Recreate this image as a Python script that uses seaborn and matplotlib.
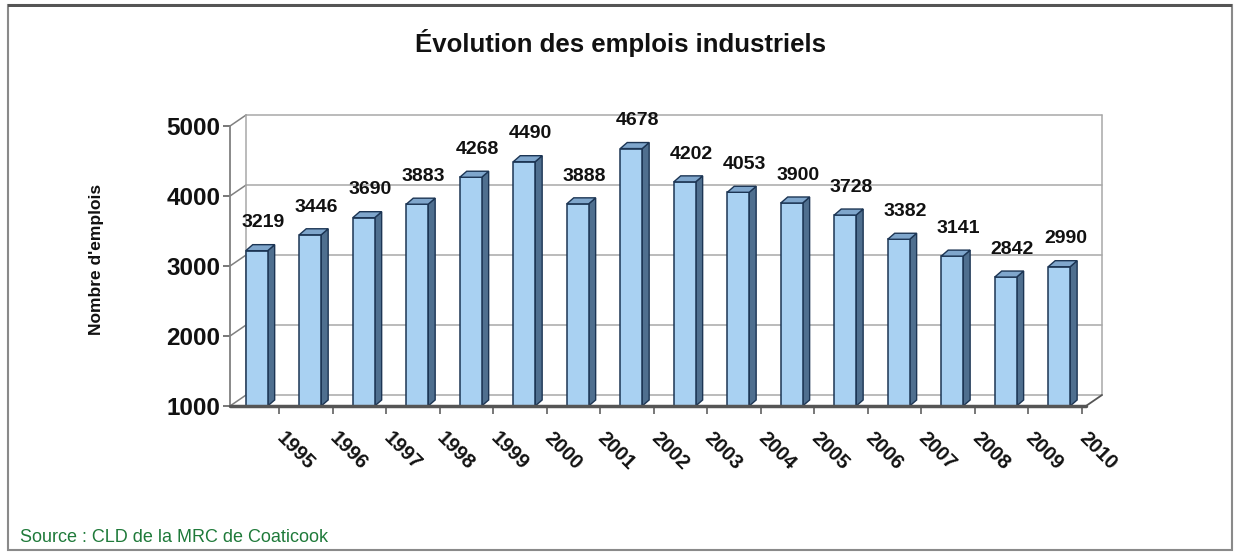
import matplotlib
matplotlib.use("Agg")
import matplotlib.pyplot as plt
from matplotlib.patches import Polygon, Rectangle
import seaborn as sns
import pandas as pd

# données
annees = ['1995', '1996', '1997', '1998', '1999', '2000', '2001', '2002',
          '2003', '2004', '2005', '2006', '2007', '2008', '2009', '2010']
emplois = [3219, 3446, 3690, 3883, 4268, 4490, 3888, 4678,
           4202, 4053, 3900, 3728, 3382, 3141, 2842, 2990]
y_ticks = [1000, 2000, 3000, 4000, 5000]

df = pd.DataFrame({'annee': annees, 'emplois': emplois})

sns.set_style('white')
plt.rcParams['font.family'] = ['Liberation Sans', 'DejaVu Sans']

fig = plt.figure(figsize=(12.38, 5.54), dpi=100)
W, H = 1238, 554
ax = fig.add_axes([230 / W, 1 - 406 / H, 872 / W, 293 / H])

face = '#A9D1F2'
side = '#4F6F8F'
top = '#7FA6CC'
edge = '#1C3554'

sns.barplot(data=df, x='annee', y='emplois', color=face, width=0.41,
            edgecolor=edge, linewidth=1.1, saturation=1, ax=ax, zorder=3)

ax.set_xlim(-0.5, 15.8)
ax.set_ylim(1000, 5186)
ymin = 1000

# profondeur des murs et des barres
dxw, dyw = 0.3, 157
dxb, dyb = 0.13, 86

# mur du fond + grille
for v in y_ticks:
    ax.plot([-0.5 + dxw, 15.5 + dxw], [v + dyw, v + dyw], color='#A8A8A8', lw=1.1, zorder=1, clip_on=False)
    ax.plot([-0.5, -0.5 + dxw], [v, v + dyw], color='#808080', lw=1.1, zorder=1, clip_on=False)
ax.plot([-0.5 + dxw, -0.5 + dxw], [ymin + dyw, 5000 + dyw], color='#A8A8A8', lw=1.1, zorder=1, clip_on=False)
ax.plot([15.5 + dxw, 15.5 + dxw], [ymin + dyw, 5000 + dyw], color='#A8A8A8', lw=1.1, zorder=1, clip_on=False)
ax.plot([-0.5, -0.5], [ymin, 5000], color='#808080', lw=1.3, zorder=1, clip_on=False)
# plancher
ax.plot([-0.5, 15.5], [ymin, ymin], color='#555555', lw=2.5, zorder=4, clip_on=False)
ax.plot([15.5, 15.5 + dxw], [ymin, ymin + dyw], color='#555555', lw=1.3, zorder=4, clip_on=False)

# faces 3D des barres
for p in ax.patches[:len(emplois)]:
    x0 = p.get_x()
    x1 = x0 + p.get_width()
    h = p.get_height()
    ax.add_patch(Polygon([(x1, ymin), (x1 + dxb, ymin + dyb), (x1 + dxb, h + dyb), (x1, h)],
                         closed=True, facecolor=side, edgecolor=edge, lw=1.0, zorder=2.9))
    ax.add_patch(Polygon([(x0, h), (x1, h), (x1 + dxb, h + dyb), (x0 + dxb, h + dyb)],
                         closed=True, facecolor=top, edgecolor=edge, lw=1.0, zorder=3.1))
    ax.annotate(f'{int(h)}', (x0 + p.get_width() / 2 + 0.12, h), xytext=(0, 20),
                textcoords='offset points', ha='center', va='center',
                fontsize=14, fontweight='bold', color='#111111', zorder=5)

for s in ax.spines.values():
    s.set_visible(False)

ax.set_yticks(y_ticks)
ax.set_yticklabels([str(v) for v in y_ticks], fontsize=17.5, fontweight='bold', color='#111111')
ax.tick_params(axis='y', length=5, width=1.2, color='#606060', pad=2, left=True)

ax.set_xticks([i + 0.42 for i in range(len(annees))])
ax.set_xticklabels(annees, rotation=-45, ha='left', va='center', rotation_mode='anchor',
                   fontsize=14.5, fontweight='bold', color='#111111')
ax.tick_params(axis='x', length=6, width=1.2, color='#606060', pad=15, bottom=True)

ax.set_xlabel('')
ax.set_ylabel("Nombre d'emplois", fontsize=12.5, fontweight='bold', labelpad=45, color='#111111')

fig.text(621 / W, 1 - 43 / H, 'Évolution des emplois industriels', ha='center', va='center',
         fontsize=18.5, fontweight='bold', color='#111111')
fig.text(20 / W, 1 - 537 / H, 'Source : CLD de la MRC de Coaticook', ha='left', va='center',
         fontsize=13, color='#1F7A3A')

# cadre
fig.patches.append(Rectangle((8 / W, 4 / H), 1224 / W, 545 / H, transform=fig.transFigure,
                             fill=False, edgecolor='#8A8A8A', lw=1.5))
fig.patches.append(Rectangle((8 / W, 1 - 7 / H), 1224 / W, 3 / H, transform=fig.transFigure,
                             facecolor='#555555', edgecolor='none'))

fig.savefig('out.png', dpi=100)
